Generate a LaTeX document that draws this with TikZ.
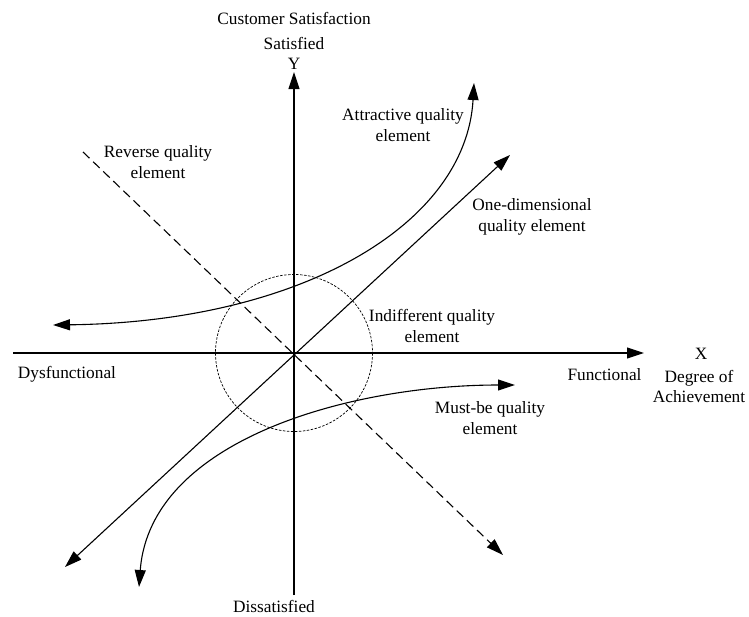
\documentclass[tikz,border=0pt]{standalone}
\usepackage{fontspec}
\setmainfont{Liberation Serif}
\usetikzlibrary{arrows.meta}
\begin{document}
\begin{tikzpicture}[x=1pt,y=-1pt,
  lbl/.style={inner sep=0pt,align=center,font=\fontsize{17.3}{20.5}\selectfont},
  tip/.style={},
  axis/.style={line width=1.1pt,-{Triangle[length=17pt,width=11pt]}},
  curvearr/.style={line width=1.1pt,{Triangle[length=17pt,width=11pt]}-{Triangle[length=17pt,width=11pt]}},
  revline/.style={line width=1.1pt,dash pattern=on 9pt off 5pt,-{Triangle[length=17pt,width=11pt]}},
  zone/.style={line width=0.7pt,dash pattern=on 2.5pt off 1.5pt}]
\useasboundingbox (0,0) rectangle (749,616);
% coordinates
\coordinate (o) at (294,353);
\coordinate (ybot) at (294,595);
\coordinate (ytop) at (294,72);
\coordinate (xl) at (13,353);
\coordinate (xr) at (644,353);
\coordinate (odl) at (65,567);
\coordinate (odr) at (510,155);
\coordinate (rvs) at (83,152);
\coordinate (rve) at (503,555);
\coordinate (atl) at (53,325);
\coordinate (att) at (474,83);
\coordinate (mbb) at (139,587);
\coordinate (mbr) at (515,385);
% zone circle
\draw[zone] (o) circle[radius=78.5];
% axes
\draw[axis] (xl) -- (xr);
\draw[axis] (ybot) -- (ytop);
% lines
\draw[curvearr] (odl) -- (odr);
\draw[revline] (rvs) -- (rve);
\draw[curvearr] (atl) .. controls (300,322) and (466,225) .. (att);
\draw[curvearr] (mbb) .. controls (150,440) and (350,385) .. (mbr);
% labels
\node[lbl] (cs) at (294,18) {Customer Satisfaction};
\node[lbl] (sat) at (294,43) {Satisfied};
\node[lbl] (ylab) at (294,64) {Y};
\node[lbl] (dis) at (274,606) {Dissatisfied};
\node[lbl] (xlab) at (701,354) {X};
\node[lbl] (deg) at (699,386.5) {Degree of\\Achievement};
\node[lbl] (func) at (604.5,375) {Functional};
\node[lbl] (dysf) at (67,374) {Dysfunctional};
\node[lbl] (attr) at (403,125) {Attractive quality\\element};
\node[lbl] (rev) at (158,162) {Reverse quality\\element};
\node[lbl] (one) at (532,217) {One-dimensional\\quality element};
\node[lbl] (indiff) at (432,326) {Indifferent quality\\element};
\node[lbl] (must) at (490,418) {Must-be quality\\element};
\end{tikzpicture}
\end{document}
